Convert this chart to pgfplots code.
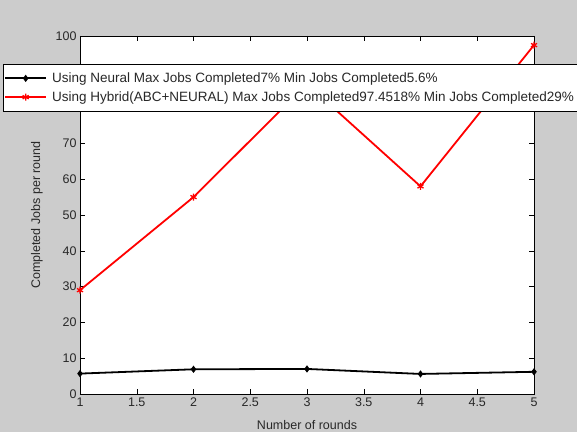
\documentclass[border=0pt]{standalone}
\usepackage{pgfplots}
\pgfplotsset{compat=1.18}
\usepackage{fontspec}
\setmainfont{Liberation Sans}
\usetikzlibrary{backgrounds}
\definecolor{figbg}{RGB}{204,204,204}
\definecolor{txt}{RGB}{40,40,40}
\pgfplotsset{mylegend/.style={legend image code/.code={%
  \draw[mark repeat=2,mark phase=2] plot coordinates {(0pt,0pt) (20.5pt,0pt) (41pt,0pt)};
  \path (44pt,0pt);}}}
\begin{document}
\begin{tikzpicture}
\begin{axis}[
  scale only axis,
  width=454pt, height=358pt,
  xmin=1, xmax=5, ymin=0, ymax=100,
  xtick={1,1.5,...,5},
  ytick={0,10,...,100},
  tick align=inside,
  major tick length=5pt,
  axis background/.style={fill=white},
  axis line style={black, line width=0.6pt},
  tick style={black, line width=0.5pt},
  /pgf/number format/assume math mode=true,
  ticklabel style={font=\fontsize{12.5}{14}\selectfont, text=txt},
  label style={font=\fontsize{12.5}{14}\selectfont, text=txt},
  xlabel={Number of rounds},
  ylabel={Completed Jobs per round},
  xlabel style={at={(axis description cs:0.5,-0.087)}, anchor=center},
  ylabel style={at={(axis description cs:-0.095,0.5)}, anchor=center},
  legend style={at={(-0.1696,0.922)}, anchor=north west, draw=black, line width=0.6pt,
    font=\fontsize{13.5}{15}\selectfont, text=txt, fill=white,
    inner xsep=1pt, inner ysep=6.5pt, row sep=3.5pt, cells={anchor=west}},
  legend cell align=left,
  legend image post style={line width=1.8pt},
]
\addplot[black, line width=1.8pt, mark=diamond*, mark size=3pt, mark options={solid, fill=black, line width=0.8pt}, mylegend]
  coordinates {(1,5.7) (2,6.9) (3,7.0) (4,5.6) (5,6.2)};
\addlegendentry{Using Neural Max Jobs Completed7\% Min Jobs Completed5.6\%}
\addplot[red, line width=1.8pt, mark=asterisk, mark size=3.5pt, mark options={solid, line width=1.3pt}, mylegend]
  coordinates {(1,29) (2,55) (3,86.6) (4,58) (5,97.45)};
\addlegendentry{Using Hybrid(ABC+NEURAL) Max Jobs Completed97.4518\% Min Jobs Completed29\%}
\end{axis}
\begin{scope}[on background layer]
\fill[figbg] ([xshift=-80pt,yshift=-38pt]current axis.south west) rectangle ([xshift=43pt,yshift=36pt]current axis.north east);
\end{scope}
\pgfresetboundingbox
\path ([xshift=-80pt,yshift=-38pt]current axis.south west) rectangle ([xshift=43pt,yshift=36pt]current axis.north east);
\end{tikzpicture}
\end{document}
